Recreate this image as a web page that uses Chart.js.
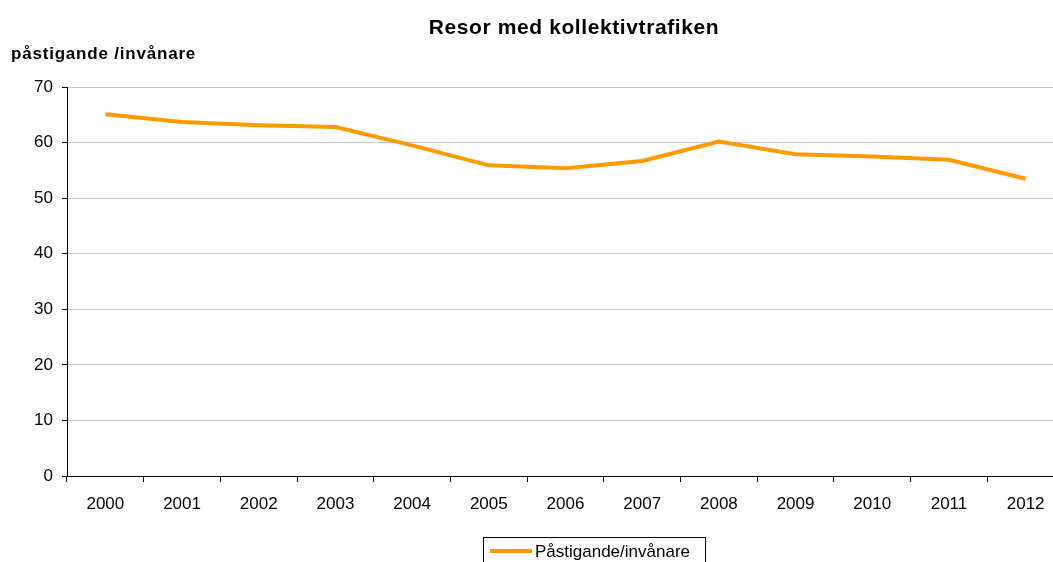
<!DOCTYPE html>
<html>
<head>
<meta charset="utf-8">
<script src="https://cdn.jsdelivr.net/npm/chart.js@4/dist/chart.umd.min.js"></script>
<style>
  html, body { margin: 0; padding: 0; background: #fff; overflow: hidden; }
  #clip { width: 1053px; height: 562px; overflow: hidden; }
  #wrap { width: 1065px; height: 562px; position: relative; }
</style>
</head>
<body>
<div id="clip"><div id="wrap"><canvas id="chart"></canvas></div></div>
<script>
const years = ["2000", "2001", "2002", "2003", "2004", "2005", "2006",
  "2007", "2008", "2009", "2010", "2011", "2012"];
const perInhabitant = [65.1, 63.7, 63.1, 62.8, 59.5, 55.9, 55.4,
  56.7, 60.2, 57.9, 57.5, 56.9, 53.5];
const seriesName = "Påstigande/invånare";
const chartTitle = "Resor med kollektivtrafiken";
const yTitle = "påstigande /invånare";

const FONT = "'Liberation Sans', Arial, sans-serif";
const ORANGE = "#ff9900";

// title, y-axis caption and the boxed legend
const textsPlugin = {
  id: "texts",
  afterDraw(chart) {
    const ctx = chart.ctx;
    ctx.save();
    ctx.fillStyle = "#000";
    ctx.textBaseline = "alphabetic";

    ctx.font = "bold 21px " + FONT;
    ctx.letterSpacing = "0.6px";
    ctx.textAlign = "center";
    ctx.fillText(chartTitle, 574, 33.5);

    ctx.font = "bold 17px " + FONT;
    ctx.letterSpacing = "0.8px";
    ctx.textAlign = "left";
    ctx.fillText(yTitle, 11, 58.5);
    ctx.letterSpacing = "0px";

    // legend
    const ds = chart.data.datasets[0];
    ctx.strokeStyle = "#000";
    ctx.lineWidth = 1;
    ctx.strokeRect(483.5, 537.5, 222, 30);
    ctx.strokeStyle = ds.borderColor;
    ctx.lineWidth = 4;
    ctx.beginPath();
    ctx.moveTo(490, 551);
    ctx.lineTo(532, 551);
    ctx.stroke();
    ctx.font = "17px " + FONT;
    ctx.fillStyle = "#000";
    ctx.fillText(ds.label, 535, 557);
    ctx.restore();
  }
};

new Chart(document.getElementById("chart"), {
  type: "line",
  data: {
    labels: years,
    datasets: [{
      label: seriesName,
      data: perInhabitant,
      borderColor: ORANGE,
      backgroundColor: ORANGE,
      borderWidth: 4,
      pointRadius: 0,
      tension: 0
    }]
  },
  options: {
    responsive: true,
    maintainAspectRatio: false,
    animation: false,
    layout: { padding: { top: 87, right: 1, left: 0, bottom: 0 } },
    plugins: {
      legend: { display: false },
      title: { display: false },
      tooltip: { enabled: false }
    },
    scales: {
      x: {
        offset: true,
        afterFit: (s) => { s.height = 86; },
        grid: {
          offset: true,
          drawOnChartArea: false,
          drawTicks: true,
          tickLength: 6,
          color: "#000"
        },
        border: { color: "#000", width: 1 },
        ticks: {
          color: "#000",
          font: { family: FONT, size: 17 },
          padding: 12,
          maxRotation: 0
        }
      },
      y: {
        min: 0,
        max: 70,
        afterFit: (s) => { s.width = 67; },
        grid: {
          color: "#c8c8c8",
          tickColor: "#000",
          tickLength: 5
        },
        border: { color: "#000", width: 1 },
        ticks: {
          stepSize: 10,
          color: "#000",
          font: { family: FONT, size: 17 },
          padding: 9
        }
      }
    }
  },
  plugins: [textsPlugin]
});
</script>
</body>
</html>
